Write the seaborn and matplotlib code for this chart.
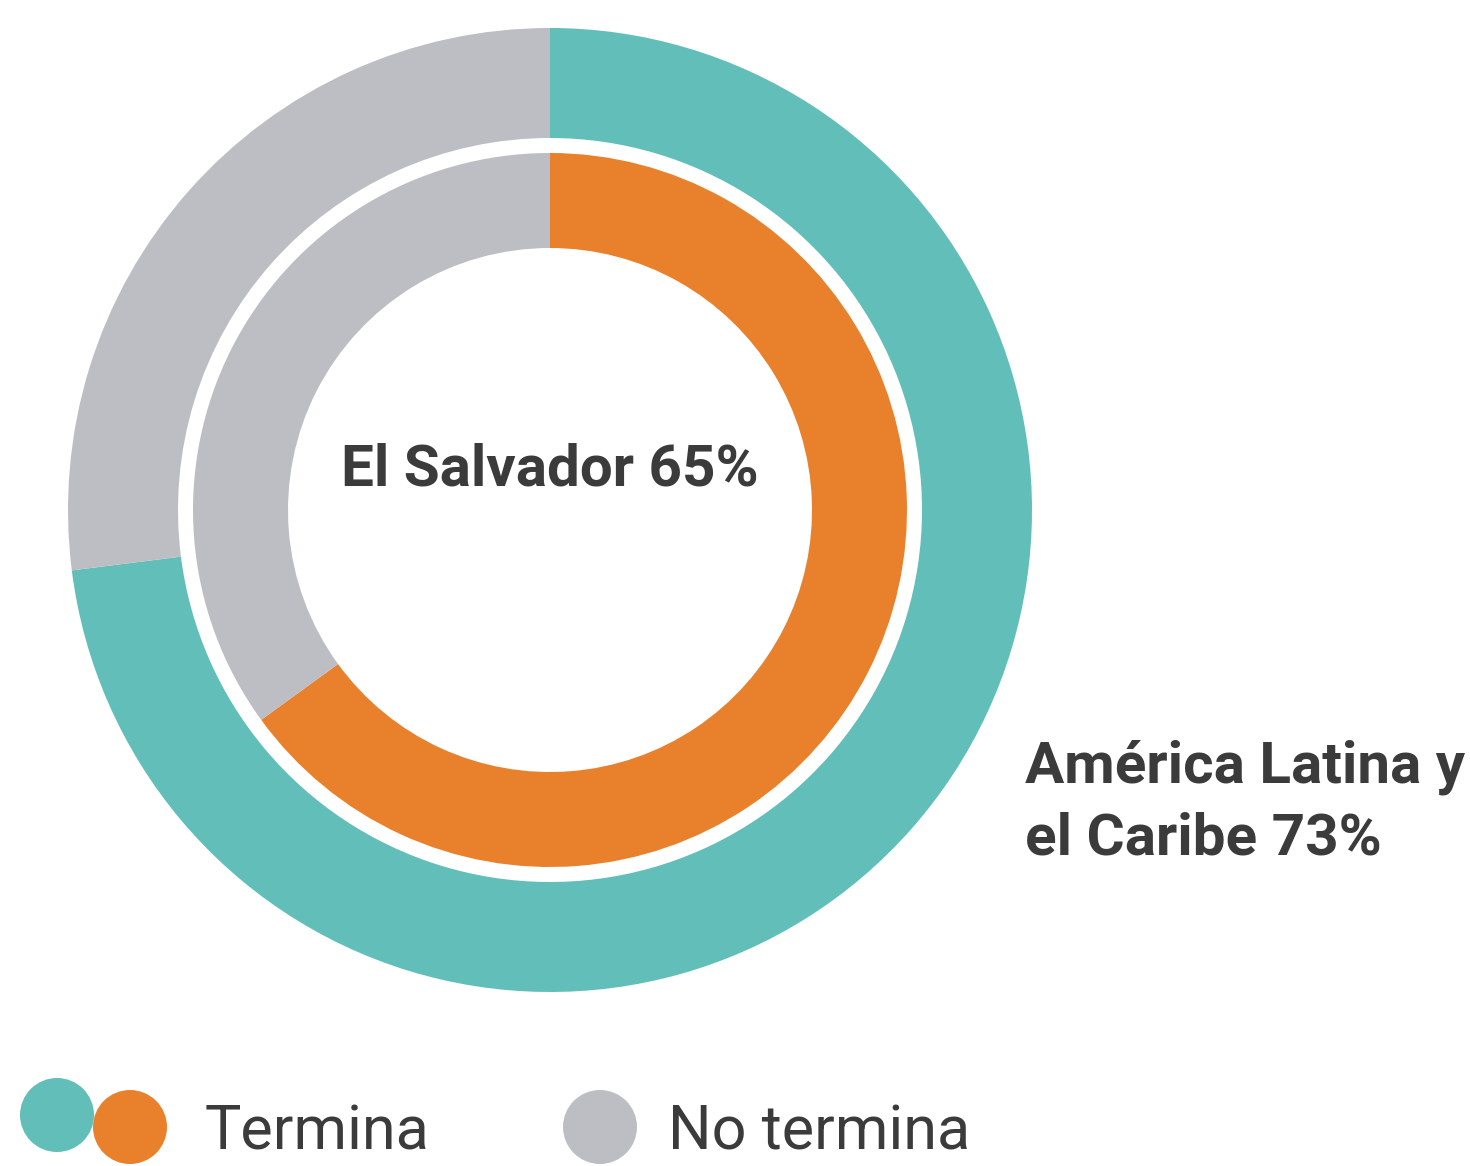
import matplotlib
matplotlib.use("Agg")
import matplotlib.pyplot as plt
import seaborn as sns
from matplotlib.patches import Circle

sns.set_theme(style="white")
plt.rcParams['font.family'] = ['Roboto', 'DejaVu Sans']

# Data
categories = ["Termina", "No termina"]
outer_label = "América Latina y\nel Caribe"
inner_label = "El Salvador"
outer_values = [73, 27]   # América Latina y el Caribe
inner_values = [65, 35]   # El Salvador

teal = "#62BEB8"
orange = "#E9812C"
gray = "#BDBEC3"
text_color = "#3B3B3B"

W, H = 1470, 1166
fig = plt.figure(figsize=(W / 100, H / 100), dpi=100)
ax = fig.add_axes([0, 0, 1, 1])

cx, cy = 550, H - 510

ax.pie(outer_values, colors=[teal, gray], center=(cx, cy), radius=482,
       startangle=90, counterclock=False,
       wedgeprops=dict(width=110, edgecolor="none", linewidth=0))
ax.pie(inner_values, colors=[orange, gray], center=(cx, cy), radius=357,
       startangle=90, counterclock=False,
       wedgeprops=dict(width=95, edgecolor="none", linewidth=0))
ax.set_xlim(0, W)
ax.set_ylim(0, H)
ax.set_aspect("equal")
ax.axis("off")

ax.text(cx, H - 470, f"{inner_label} {inner_values[0]}%", ha="center", va="center",
        fontsize=42, fontweight="bold", color=text_color)
ax.text(1025, H - 803, f"{outer_label} {outer_values[0]}%", ha="left", va="center",
        fontsize=42, fontweight="bold", color=text_color, linespacing=1.38)

# Legend
for (x, y), c in zip([(57, 1115), (130, 1127), (600, 1127)], [teal, orange, gray]):
    ax.add_patch(Circle((x, H - y), 37, color=c, ec="none"))
ax.text(205, H - 1132, categories[0], ha="left", va="center",
        fontsize=44, fontweight="normal", color=text_color)
ax.text(668, H - 1132, categories[1], ha="left", va="center",
        fontsize=44, fontweight="normal", color=text_color)

fig.savefig("out.png", dpi=100, facecolor="white")
